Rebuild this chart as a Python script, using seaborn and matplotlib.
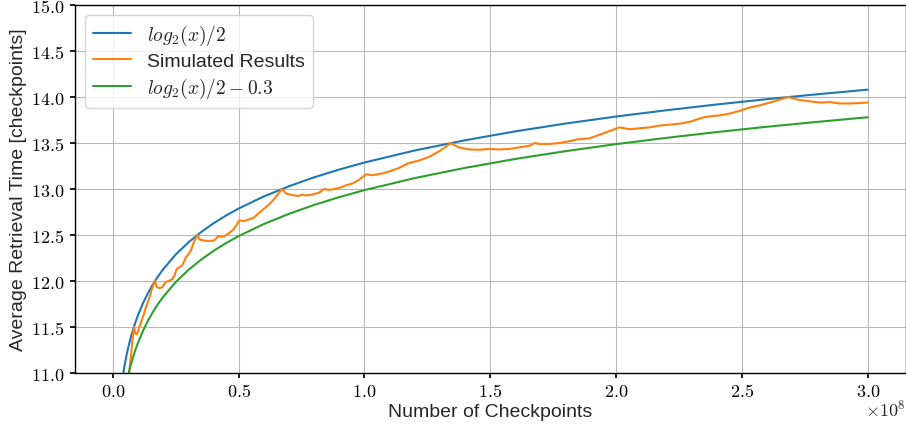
import numpy as np
import pandas as pd
import matplotlib
matplotlib.use("Agg")
import matplotlib.pyplot as plt
from matplotlib.ticker import FuncFormatter, MultipleLocator
import seaborn as sns

# ---- data (x in units of 1e8 checkpoints) ----
curve_x = [0.035, 0.04, 0.045, 0.05, 0.055, 0.06, 0.065, 0.07, 0.08, 0.09, 0.10,
           0.12, 0.14, 0.16, 0.18, 0.20, 0.25, 0.30, 0.35, 0.40, 0.45, 0.50, 0.60,
           0.70, 0.80, 0.90, 1.0, 1.2, 1.4, 1.6, 1.8, 2.0, 2.2, 2.4, 2.6, 2.8, 3.0]
blue_y = [10.870, 10.966, 11.051, 11.127, 11.196, 11.258, 11.316, 11.370, 11.466,
          11.551, 11.627, 11.758, 11.870, 11.966, 12.051, 12.127, 12.288, 12.419,
          12.530, 12.627, 12.712, 12.788, 12.919, 13.030, 13.127, 13.212, 13.288,
          13.419, 13.530, 13.627, 13.712, 13.788, 13.856, 13.919, 13.977, 14.030,
          14.080]
green_y = [10.570, 10.666, 10.751, 10.827, 10.896, 10.958, 11.016, 11.070, 11.166,
           11.251, 11.327, 11.458, 11.570, 11.666, 11.751, 11.827, 11.988, 12.119,
           12.230, 12.327, 12.412, 12.488, 12.619, 12.730, 12.827, 12.912, 12.988,
           13.119, 13.230, 13.327, 13.412, 13.488, 13.556, 13.619, 13.677, 13.730,
           13.780]

sim_x = [0.042, 0.046, 0.050, 0.055, 0.060, 0.065, 0.070, 0.075, 0.0839,
         0.090, 0.0955, 0.100, 0.105, 0.110, 0.117, 0.125, 0.130, 0.137, 0.143,
         0.150, 0.156, 0.1678,
         0.176, 0.185, 0.196, 0.210, 0.223, 0.236, 0.245, 0.254, 0.265, 0.276,
         0.289, 0.300, 0.310, 0.322, 0.3355,
         0.345, 0.362, 0.382, 0.402, 0.410, 0.420, 0.430, 0.442, 0.462, 0.481,
         0.490, 0.503, 0.521, 0.541, 0.561, 0.581, 0.590, 0.607, 0.620, 0.634,
         0.650, 0.661, 0.671,
         0.690, 0.720, 0.740, 0.753, 0.767, 0.793, 0.820, 0.839, 0.860, 0.899,
         0.926, 0.952, 0.979, 1.007, 1.032, 1.072, 1.098, 1.138, 1.174, 1.218,
         1.257, 1.297, 1.324, 1.342,
         1.377, 1.417, 1.456, 1.496, 1.536, 1.576, 1.616, 1.655, 1.678, 1.695,
         1.735, 1.775, 1.815, 1.846, 1.894, 1.934, 1.974, 2.013, 2.053, 2.093,
         2.133, 2.173, 2.212, 2.252, 2.292, 2.349, 2.372, 2.411, 2.451, 2.491,
         2.523, 2.571, 2.624, 2.684,
         2.723, 2.770, 2.810, 2.850, 2.890, 2.930, 2.970, 3.000]
sim_y = [10.50, 10.43, 10.50, 10.65, 10.83, 11.00, 11.13, 11.26, 11.50,
         11.43, 11.42, 11.45, 11.50, 11.53, 11.59, 11.65, 11.70, 11.75, 11.80,
         11.86, 11.92, 12.00,
         11.93, 11.925, 11.93, 11.99, 12.00, 12.02, 12.06, 12.13, 12.15, 12.17,
         12.25, 12.29, 12.33, 12.42, 12.50,
         12.45, 12.44, 12.435, 12.44, 12.46, 12.49, 12.48, 12.485, 12.52, 12.565,
         12.60, 12.66, 12.65, 12.67, 12.69, 12.74, 12.76, 12.80, 12.83, 12.87,
         12.92, 12.96, 13.00,
         12.95, 12.93, 12.925, 12.94, 12.93, 12.94, 12.96, 13.00, 12.99, 13.01,
         13.04, 13.06, 13.10, 13.16, 13.15, 13.17, 13.19, 13.23, 13.28, 13.31,
         13.35, 13.41, 13.46, 13.50,
         13.45, 13.43, 13.427, 13.435, 13.43, 13.435, 13.453, 13.47, 13.50, 13.49,
         13.49, 13.50, 13.52, 13.54, 13.55, 13.59, 13.63, 13.67, 13.65, 13.66,
         13.67, 13.69, 13.70, 13.71, 13.73, 13.78, 13.79, 13.80, 13.82, 13.85,
         13.88, 13.91, 13.95, 14.00,
         13.97, 13.953, 13.94, 13.945, 13.93, 13.93, 13.935, 13.94]

labels = [r"$log_2(x)/2$", "Simulated Results", r"$log_2(x)/2-0.3$"]
x_ticks = [0.0, 0.5, 1.0, 1.5, 2.0, 2.5, 3.0]
scale = 1e8

# ---- style ----
sns.set_theme(style="whitegrid")
plt.rcParams.update({
    "font.family": ["Liberation Sans", "DejaVu Sans"],
    "mathtext.fontset": "cm",
    "axes.edgecolor": "black",
    "axes.linewidth": 1.0,
    "grid.color": "#b8b8b8",
    "grid.linewidth": 0.8,
    "xtick.bottom": True,
    "ytick.left": True,
    "xtick.color": "black",
    "ytick.color": "black",
    "xtick.major.size": 3.5,
    "ytick.major.size": 3.5,
    "axes.facecolor": "white",
})

df_curve = pd.DataFrame({"x": np.array(curve_x) * scale, "blue": blue_y, "green": green_y})
df_sim = pd.DataFrame({"x": np.array(sim_x) * scale, "y": sim_y})

fig = plt.figure(figsize=(9.06, 4.27), dpi=100)
ax = fig.add_axes([0.0828, 0.1241, 0.9167, 0.8618])

colors = sns.color_palette("tab10")
sns.lineplot(data=df_curve, x="x", y="blue", ax=ax, color=colors[0], lw=1.5,
             label=labels[0], sort=False, errorbar=None)
sns.lineplot(data=df_sim, x="x", y="y", ax=ax, color=colors[1], lw=1.5,
             label=labels[1], sort=False, errorbar=None)
sns.lineplot(data=df_curve, x="x", y="green", ax=ax, color=colors[2], lw=1.5,
             label=labels[2], sort=False, errorbar=None)

ax.set_xlim(-0.15 * scale, 3.15 * scale)
ax.set_ylim(11, 15)
ax.set_xticks([t * scale for t in x_ticks])
ax.yaxis.set_major_locator(MultipleLocator(0.5))
ax.xaxis.set_major_formatter(FuncFormatter(lambda v, p: r"$\mathrm{%.1f}$" % (v / scale)))
ax.yaxis.set_major_formatter(FuncFormatter(lambda v, p: r"$\mathrm{%.1f}$" % v))
ax.tick_params(axis="both", labelsize=13, pad=4)
for s in ax.spines.values():
    s.set_color("black")
    s.set_visible(True)

ax.set_xlabel("Number of Checkpoints", fontsize=14, labelpad=2)
ax.set_ylabel("Average Retrieval Time [checkpoints]", fontsize=14, labelpad=3)
ax.text(1.0, -0.07, r"$\times\mathrm{10^{8}}$", transform=ax.transAxes,
        ha="right", va="top", fontsize=13)

leg = ax.legend(loc="upper left", fontsize=14, frameon=True, fancybox=True,
                framealpha=0.8, edgecolor="0.8", borderaxespad=0.5,
                labelspacing=0.3, borderpad=0.4)

fig.savefig("out.png", dpi=100)
